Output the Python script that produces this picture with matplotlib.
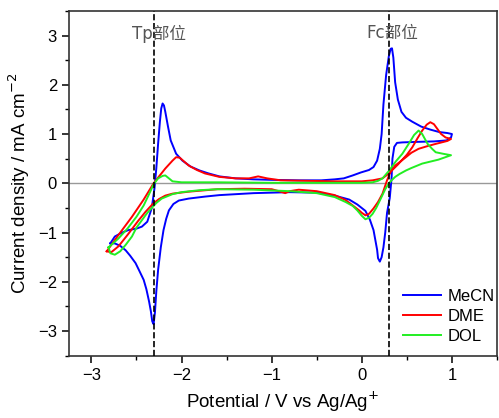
import numpy as np
import matplotlib
matplotlib.use("Agg")
import matplotlib.pyplot as plt
from matplotlib.ticker import MultipleLocator

plt.rcParams['font.family'] = ['Liberation Sans', 'DejaVu Sans']

# ---- data (potential V, current density mA cm-2) ----
mecn_x = [-2.79, -2.74, -2.66, -2.59, -2.50, -2.44, -2.38, -2.33, -2.30, -2.28,
          -2.26, -2.24, -2.225, -2.21, -2.195, -2.18, -2.15, -2.12, -2.06, -1.99,
          -1.90, -1.80, -1.70, -1.58, -1.40, -1.20, -1.00, -0.70, -0.45, -0.30,
          -0.20, -0.10, -0.01, 0.08, 0.13, 0.17, 0.20, 0.22, 0.24, 0.27,
          0.30, 0.32, 0.335, 0.35, 0.37, 0.40, 0.44, 0.49, 0.56, 0.66,
          0.76, 0.86, 0.95, 1.00,
          0.99, 0.94, 0.80, 0.60, 0.45, 0.39, 0.36, 0.34, 0.33, 0.31,
          0.28, 0.26, 0.24, 0.22, 0.20, 0.18, 0.17, 0.15, 0.13, 0.09,
          0.04, -0.05, -0.14, -0.30, -0.50, -0.80, -1.20, -1.58, -1.74, -1.92,
          -2.03, -2.09, -2.14, -2.17, -2.20, -2.23, -2.26, -2.28, -2.295, -2.31,
          -2.325, -2.34, -2.36, -2.39, -2.42, -2.47, -2.51, -2.57, -2.62, -2.68,
          -2.74, -2.79]
mecn_y = [-1.22, -1.08, -1.00, -0.95, -0.92, -0.88, -0.78, -0.50, -0.10, 0.30,
          0.80, 1.25, 1.52, 1.62, 1.58, 1.45, 1.15, 0.87, 0.60, 0.46,
          0.34, 0.26, 0.20, 0.14, 0.10, 0.08, 0.07, 0.06, 0.06, 0.08,
          0.10, 0.16, 0.22, 0.27, 0.33, 0.46, 0.70, 1.00, 1.60, 2.20,
          2.58, 2.73, 2.74, 2.55, 2.05, 1.70, 1.45, 1.33, 1.25, 1.15,
          1.09, 1.04, 1.02, 1.00,
          0.93, 0.87, 0.85, 0.84, 0.83, 0.82, 0.74, 0.50, 0.10, -0.30,
          -0.60, -1.00, -1.30, -1.50, -1.59, -1.52, -1.35, -1.15, -0.95, -0.74,
          -0.56, -0.43, -0.33, -0.25, -0.19, -0.18, -0.20, -0.24, -0.27, -0.31,
          -0.35, -0.42, -0.55, -0.72, -0.95, -1.30, -1.76, -2.20, -2.62, -2.86,
          -2.80, -2.60, -2.40, -2.15, -1.96, -1.77, -1.62, -1.47, -1.36, -1.27,
          -1.22, -1.22]

dme_x = [-2.83, -2.70, -2.55, -2.42, -2.31, -2.18, -2.10, -2.06, -2.02, -1.97,
         -1.92, -1.83, -1.74, -1.58, -1.40, -1.25, -1.15, -1.05, -0.90, -0.60,
         -0.30, 0.00, 0.12, 0.23, 0.30, 0.40, 0.50, 0.56, 0.62, 0.67,
         0.72, 0.76, 0.80, 0.84, 0.88, 0.93, 0.99,
         0.95, 0.82, 0.72, 0.63, 0.55, 0.49, 0.42, 0.37, 0.32, 0.28,
         0.23, 0.18, 0.13, 0.08, 0.04, 0.00, -0.03, -0.10, -0.18, -0.30,
         -0.50, -0.70, -0.80, -0.85, -0.90, -1.00, -1.30, -1.60, -1.92, -2.10,
         -2.18, -2.25, -2.32, -2.40, -2.48, -2.60, -2.70, -2.78, -2.83]
dme_y = [-1.38, -1.05, -0.68, -0.33, 0.00, 0.30, 0.46, 0.53, 0.52, 0.44,
         0.36, 0.27, 0.20, 0.13, 0.10, 0.10, 0.14, 0.10, 0.06, 0.05,
         0.04, 0.04, 0.06, 0.10, 0.20, 0.38, 0.58, 0.73, 0.92, 1.07,
         1.19, 1.24, 1.20, 1.10, 1.00, 0.93, 0.90,
         0.86, 0.80, 0.75, 0.70, 0.62, 0.53, 0.43, 0.36, 0.24, 0.06,
         -0.21, -0.38, -0.51, -0.62, -0.65, -0.60, -0.55, -0.45, -0.34, -0.24,
         -0.16, -0.13, -0.16, -0.20, -0.17, -0.12, -0.11, -0.12, -0.17, -0.21,
         -0.25, -0.32, -0.42, -0.58, -0.76, -1.05, -1.28, -1.40, -1.38]

dol_x = [-2.81, -2.70, -2.60, -2.50, -2.42, -2.36, -2.31, -2.26, -2.21, -2.18,
         -2.14, -2.10, -2.00, -1.60, -1.00, -0.50, 0.00, 0.12, 0.18, 0.23,
         0.30, 0.38, 0.45, 0.52, 0.58, 0.63, 0.67, 0.70, 0.73, 0.78,
         0.82, 0.90, 0.99,
         0.85, 0.67, 0.55, 0.49, 0.42, 0.37, 0.33, 0.30, 0.26, 0.20,
         0.16, 0.12, 0.08, 0.04, 0.00, -0.05, -0.10, -0.18, -0.30, -0.50,
         -0.80, -1.20, -1.60, -1.80, -2.00, -2.10, -2.18, -2.22, -2.28, -2.32,
         -2.38, -2.44, -2.50, -2.55, -2.62, -2.68, -2.74, -2.79, -2.81]
dol_y = [-1.30, -1.12, -0.92, -0.68, -0.45, -0.22, -0.02, 0.10, 0.15, 0.16,
         0.10, 0.04, 0.02, 0.02, 0.01, 0.01, 0.01, 0.02, 0.05, 0.10,
         0.25, 0.45, 0.60, 0.80, 0.98, 1.07, 1.00, 0.90, 0.80, 0.70,
         0.63, 0.60, 0.57,
         0.48, 0.40, 0.31, 0.26, 0.19, 0.13, 0.06, 0.00, -0.12, -0.35,
         -0.50, -0.62, -0.70, -0.73, -0.66, -0.55, -0.46, -0.38, -0.28, -0.20,
         -0.16, -0.13, -0.12, -0.14, -0.18, -0.22, -0.28, -0.31, -0.40, -0.48,
         -0.60, -0.75, -0.90, -1.08, -1.25, -1.38, -1.45, -1.42, -1.30]

solvents = ['MeCN', 'DME', 'DOL']
colors = ['#0000ff', '#ff0000', '#22ee22']
tp_pos = -2.3
fc_pos = 0.3

fig = plt.figure(figsize=(4.99, 4.18), dpi=100)
ax = fig.add_axes([0.138, 0.149, 0.858, 0.825])

ax.axhline(0, color='#999999', lw=1.0, zorder=1)
ax.axvline(tp_pos, color='k', ls='--', lw=1.2, zorder=3)
ax.axvline(fc_pos, color='k', ls='--', lw=1.2, zorder=3)

for xs, ys, name, c in zip([mecn_x, dme_x, dol_x], [mecn_y, dme_y, dol_y], solvents, colors):
    ax.plot(xs, ys, color=c, lw=1.4, label=name, zorder=2)

ax.text(tp_pos + 0.05, 3.03, 'Tp部位', ha='center', va='center', fontsize=12,
        color='#555555', family=['DejaVu Sans', 'Noto Sans CJK SC'])
ax.text(fc_pos + 0.04, 3.05, 'Fc部位', ha='center', va='center', fontsize=12,
        color='#555555', family=['DejaVu Sans', 'Noto Sans CJK SC'])

ax.set_xlim(-3.25, 1.5)
ax.set_ylim(-3.5, 3.5)
ax.xaxis.set_major_locator(MultipleLocator(1))
ax.xaxis.set_minor_locator(MultipleLocator(0.5))
ax.yaxis.set_major_locator(MultipleLocator(1))
ax.yaxis.set_minor_locator(MultipleLocator(0.5))
ax.tick_params(which='major', length=5, width=1.1, labelsize=12, direction='out')
ax.tick_params(which='minor', length=3, width=1.0, direction='out')
for s in ax.spines.values():
    s.set_linewidth(1.2)
    s.set_color('#333333')

ax.set_xlabel('Potential / V vs Ag/Ag$^{+}$', fontsize=13.5, labelpad=5)
ax.set_ylabel('Current density / mA cm$^{-2}$', fontsize=13.5, labelpad=4)

ax.legend(loc='lower right', bbox_to_anchor=(1.03, -0.01), frameon=False,
          fontsize=12, handlelength=2.3, handletextpad=0.4, labelspacing=0.3)

fig.savefig('out.png', dpi=100)
